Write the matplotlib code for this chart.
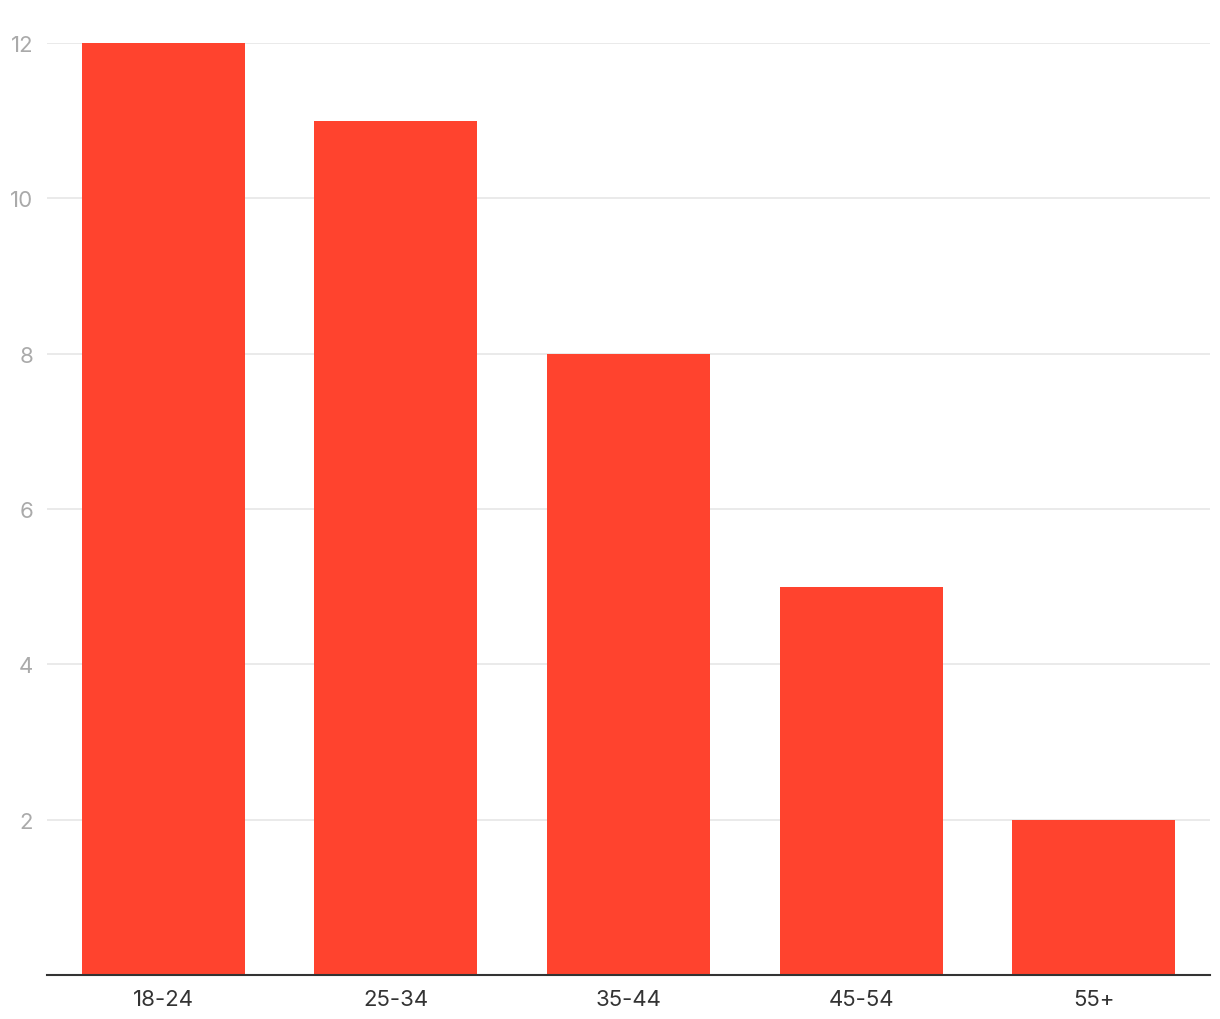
import matplotlib
matplotlib.use("Agg")
import matplotlib.pyplot as plt

categories = ["18-24", "25-34", "35-44", "45-54", "55+"]
values = [12, 11, 8, 5, 2]
yticks = [2, 4, 6, 8, 10, 12]

plt.rcParams['font.family'] = ['Inter', 'DejaVu Sans']

W, H = 1220, 1020
fig = plt.figure(figsize=(W/100, H/100), dpi=100)
left, right, top, bottom = 47, 1210, 44, 976
ax = fig.add_axes([left/W, (H-bottom)/H, (right-left)/W, (bottom-top)/H])

x = list(range(len(categories)))
ax.bar(x, values, width=0.70, color="#FF432E", zorder=2)
ax.set_xlim(-0.5, len(categories)-0.5)
ax.set_ylim(0, 12)
ax.set_yticks(yticks)
ax.set_yticklabels([str(t) for t in yticks])
ax.set_xticks(x)
ax.set_xticklabels(categories)
ax.yaxis.grid(True, color="#e6e6e6", linewidth=1.2, zorder=0)
ax.set_axisbelow(True)
for s in ["top", "right", "left"]:
    ax.spines[s].set_visible(False)
ax.spines["bottom"].set_color("#333333")
ax.spines["bottom"].set_linewidth(1.5)
ax.spines["bottom"].set_zorder(3)
ax.tick_params(axis="y", length=0, pad=10, labelsize=16, labelcolor="#aaaaaa")
ax.tick_params(axis="x", length=0, pad=10, labelsize=16, labelcolor="#333333")

fig.savefig("out.png", dpi=100, facecolor="white")
